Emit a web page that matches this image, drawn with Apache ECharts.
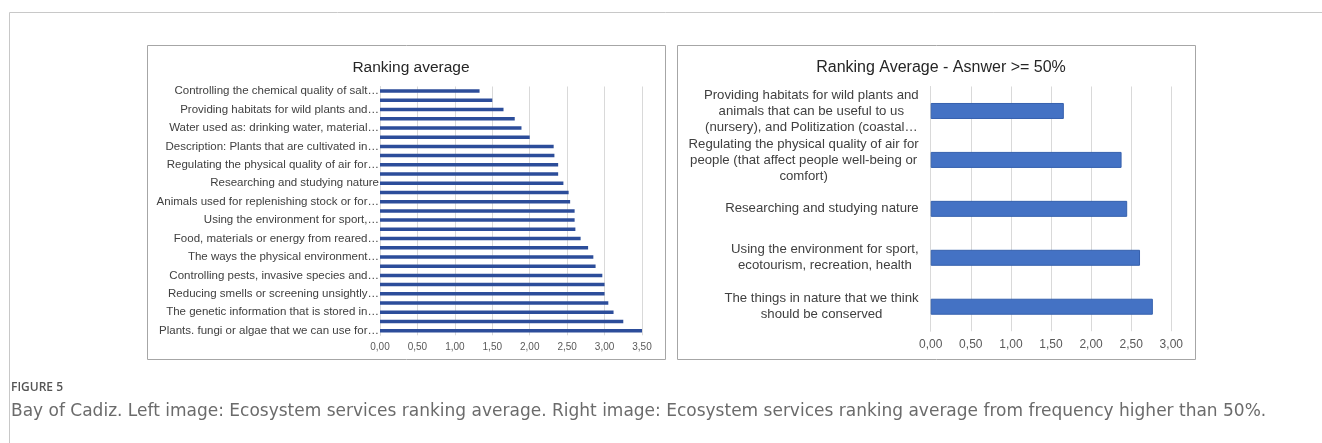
<!DOCTYPE html>
<html>
<head>
<meta charset="utf-8">
<title>Ranking average</title>
<script src="https://cdn.jsdelivr.net/npm/echarts@6/dist/echarts.min.js"></script>
<style>
  html, body { margin: 0; padding: 0; background: #fff; }
  #main { width: 1322px; height: 443px; }
</style>
</head>
<body>
<div id="main"></div>
<script>
// left panel: 27 services, only every other label is visible in the original
// (the hidden names are placeholders, only their bars are shown)
var leftCategories = [
  'Controlling the chemical quality of salt\u2026',
  'Mediating wastes or toxic substances\u2026',
  'Providing habitats for wild plants and\u2026',
  'Controlling or preventing water flow\u2026',
  'Water used as: drinking water, material\u2026',
  'Wild animals used for nutrition\u2026',
  'Description: Plants that are cultivated in\u2026',
  'Regulating the chemical quality of water\u2026',
  'Regulating the physical quality of air for\u2026',
  'Maintaining populations and habitats\u2026',
  'Researching and studying nature',
  'Elements of living systems used for education\u2026',
  'Animals used for replenishing stock or for\u2026',
  'Controlling erosion rates\u2026',
  'Using the environment for sport,\u2026',
  'Wild plants used for nutrition\u2026',
  'Food, materials or energy from reared\u2026',
  'The things in nature that we think should be conserved',
  'The ways the physical environment\u2026',
  'Pollinating our fruit trees\u2026',
  'Controlling pests, invasive species and\u2026',
  'Living systems used in traditional crafts\u2026',
  'Reducing smells or screening unsightly\u2026',
  'Regulating temperature and humidity\u2026',
  'The genetic information that is stored in\u2026',
  'Elements of nature that have aesthetic value\u2026',
  'Plants. fungi or algae that we can use for\u2026'
];
var leftValues = [
  1.33, 1.50, 1.65, 1.80, 1.89, 2.00, 2.32, 2.33, 2.38, 2.38,
  2.45, 2.52, 2.54, 2.60, 2.60, 2.61, 2.68, 2.78, 2.85, 2.88,
  2.97, 3.00, 3.00, 3.05, 3.12, 3.25, 3.50
];

// right panel: answers >= 50%
var rightCategories = [
  'Providing habitats for wild plants and\nanimals that can be useful to us\n(nursery), and Politization (coastal\u2026',
  'Regulating the physical quality of air for\npeople (that affect people well-being or\ncomfort)',
  'Researching and studying nature',
  'Using the environment for sport,\necotourism, recreation, health',
  'The things in nature that we think\nshould be conserved'
];
var rightValues = [1.66, 2.38, 2.45, 2.61, 2.77];

var leftTicks = { min: 0, max: 3.5, interval: 0.5 };
var rightTicks = { min: 0, max: 3, interval: 0.5 };

var commaFmt = function (v) { return v.toFixed(2).replace('.', ','); };
var font = 'Liberation Sans, Arial, sans-serif';

var myChart = echarts.init(document.getElementById('main'));

var option = {
  animation: false,
  backgroundColor: '#ffffff',
  textStyle: { fontFamily: font },
  title: [
    {
      text: 'Ranking average',
      left: 406, top: 55, textAlign: 'center',
      textStyle: { fontSize: 15.5, fontWeight: 'normal', color: '#262626', fontFamily: font }
    },
    {
      text: 'Ranking Average - Asnwer >= 50%',
      left: 936, top: 55, textAlign: 'center',
      textStyle: { fontSize: 16, fontWeight: 'normal', color: '#262626', fontFamily: font }
    }
  ],
  grid: [
    { left: 380, right: 680, top: 86.5, bottom: 107.7, containLabel: false },
    { left: 930.7, right: 150.7, top: 86.5, bottom: 111.8, containLabel: false }
  ],
  xAxis: [
    {
      type: 'value', gridIndex: 0,
      min: leftTicks.min, max: leftTicks.max, interval: leftTicks.interval,
      axisLine: { show: false }, axisTick: { show: false },
      splitLine: { lineStyle: { color: '#d9d9d9' } },
      axisLabel: { formatter: commaFmt, fontSize: 10, color: '#595959', margin: 7 }
    },
    {
      type: 'value', gridIndex: 1,
      min: rightTicks.min, max: rightTicks.max, interval: rightTicks.interval,
      axisLine: { show: false }, axisTick: { show: false },
      splitLine: { lineStyle: { color: '#d9d9d9' } },
      axisLabel: { formatter: commaFmt, fontSize: 12, color: '#595959', margin: 7 }
    }
  ],
  yAxis: [
    {
      type: 'category', gridIndex: 0, inverse: true, data: leftCategories,
      axisLine: { lineStyle: { color: '#d9d9d9' } }, axisTick: { show: false },
      axisLabel: { interval: 1, fontSize: 11.5, color: '#404040', margin: 1 }
    },
    {
      type: 'category', gridIndex: 1, inverse: true, data: rightCategories,
      axisLine: { lineStyle: { color: '#d9d9d9' } }, axisTick: { show: false },
      axisLabel: {
        interval: 0, margin: 12,
        formatter: function (v) { return '{c|' + v + '}'; },
        rich: { c: { fontSize: 13.2, lineHeight: 16, color: '#404040', align: 'center', fontFamily: font } }
      }
    }
  ],
  series: [
    {
      type: 'bar', xAxisIndex: 0, yAxisIndex: 0, data: leftValues,
      barWidth: 3.5,
      itemStyle: { color: '#2c4d9a' }
    },
    {
      type: 'bar', xAxisIndex: 1, yAxisIndex: 1, data: rightValues,
      barWidth: 16,
      itemStyle: { color: '#4472c4', borderColor: '#3560ad', borderWidth: 1 }
    }
  ],
  graphic: [
    { type: 'line', shape: { x1: 9.5, y1: 12.5, x2: 1322, y2: 12.5 }, style: { stroke: '#c8c8c8', lineWidth: 1 } },
    { type: 'line', shape: { x1: 9.5, y1: 12.5, x2: 9.5, y2: 443 }, style: { stroke: '#c8c8c8', lineWidth: 1 } },
    { type: 'rect', shape: { x: 147.5, y: 45.5, width: 518, height: 314 }, style: { fill: null, stroke: '#a6a6a6', lineWidth: 1 }, z: -1 },
    { type: 'rect', shape: { x: 677.5, y: 45.5, width: 518, height: 314 }, style: { fill: null, stroke: '#a6a6a6', lineWidth: 1 }, z: -1 },
    {
      type: 'text', left: 11, top: 382,
      style: { text: 'FIGURE 5', fontSize: 12, fontWeight: 600, fill: '#555555', fontFamily: 'Open Sans, sans-serif' }
    },
    {
      type: 'text', left: 11, top: 403,
      style: {
        text: 'Bay of Cadiz. Left image: Ecosystem services ranking average. Right image: Ecosystem services ranking average from frequency higher than 50%.',
        fontSize: 17, fill: '#6b6b6b', fontFamily: 'DejaVu Sans, sans-serif'
      }
    }
  ]
};

myChart.setOption(option);
</script>
</body>
</html>
